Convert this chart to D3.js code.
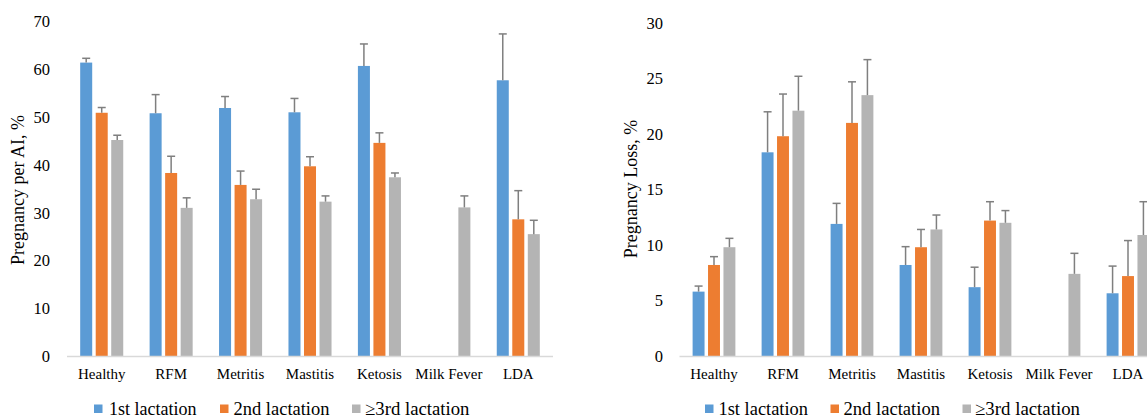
<!DOCTYPE html>
<html>
<head>
<meta charset="utf-8">
<script src="https://cdn.jsdelivr.net/npm/d3@7/dist/d3.min.js"></script>
<style>
  html, body { margin: 0; padding: 0; background: #fff; }
  svg { display: block; }
  text { font-family: "Liberation Serif", "Times New Roman", serif; fill: #000; }
</style>
</head>
<body>
<svg id="chart" width="1147" height="417"></svg>
<script>
// ---------------- DATA ----------------
const categories = ["Healthy", "RFM", "Metritis", "Mastitis", "Ketosis", "Milk Fever", "LDA"];
const seriesNames = ["1st lactation", "2nd lactation", "\u22653rd lactation"];
const seriesColors = ["#5B9BD5", "#ED7D31", "#B4B4B4"];

// Left panel: Pregnancy per AI, %
const ppaiFirst  = [61.4, 50.8, 51.9, 51.0, 60.7, null, 57.7];
const ppaiSecond = [50.9, 38.3, 35.8, 39.7, 44.6, null, 28.6];
const ppaiThird  = [45.2, 31.0, 32.8, 32.3, 37.4, 31.1, 25.5];
const ppaiFirstErr  = [0.9, 3.9, 2.4, 2.9, 4.6, null, 9.7];
const ppaiSecondErr = [1.1, 3.5, 2.9, 2.0, 2.1, null, 6.0];
const ppaiThirdErr  = [1.0, 2.1, 2.1, 1.2, 0.9, 2.4, 2.9];
const ppaiTicks = [0, 10, 20, 30, 40, 50, 60, 70];

// Right panel: Pregnancy Loss, %
const lossFirst  = [5.8, 18.35, 11.9, 8.2, 6.2, null, 5.65];
const lossSecond = [8.2, 19.8, 21.0, 9.8, 12.2, null, 7.2];
const lossThird  = [9.8, 22.1, 23.5, 11.4, 12.0, 7.4, 10.9];
const lossFirstErr  = [0.5, 3.65, 1.85, 1.65, 1.8, null, 2.45];
const lossSecondErr = [0.75, 3.8, 3.7, 1.6, 1.7, null, 3.2];
const lossThirdErr  = [0.8, 3.1, 3.2, 1.3, 1.1, 1.85, 3.0];
const lossTicks = [0, 5, 10, 15, 20, 25, 30];

// ---------------- DRAW ----------------
const svg = d3.select("#chart");

function panel(opts) {
  const g = svg.append("g");
  const x = d3.scaleBand().domain(categories).range([opts.x0, opts.x1]).padding(0);
  const bw = x.bandwidth();
  const xs = d3.scaleBand().domain(d3.range(3))
    .range([bw * 0.19, bw * 0.81]).paddingInner(0.226).paddingOuter(0);
  const y = d3.scaleLinear().domain([0, opts.max]).range([opts.yBase, opts.yTop]);

  const rows = [];
  opts.values.forEach((arr, s) => {
    arr.forEach((v, i) => {
      if (v !== null) rows.push({cat: categories[i], s, v, e: opts.errs[s][i]});
    });
  });

  // bars
  g.selectAll("rect.bar").data(rows).enter().append("rect")
    .attr("class", "bar")
    .attr("x", d => x(d.cat) + xs(d.s))
    .attr("width", xs.bandwidth())
    .attr("y", d => y(d.v))
    .attr("height", d => y(0) - y(d.v))
    .attr("fill", d => seriesColors[d.s]);

  // error bars (upper only)
  const eg = g.selectAll("g.err").data(rows).enter().append("g").attr("class", "err");
  eg.append("line")
    .attr("x1", d => x(d.cat) + xs(d.s) + xs.bandwidth() / 2)
    .attr("x2", d => x(d.cat) + xs(d.s) + xs.bandwidth() / 2)
    .attr("y1", d => y(d.v))
    .attr("y2", d => y(d.v + d.e))
    .attr("stroke", "#7F7F7F").attr("stroke-width", 1.5);
  eg.append("line")
    .attr("x1", d => x(d.cat) + xs(d.s) + xs.bandwidth() / 2 - 4)
    .attr("x2", d => x(d.cat) + xs(d.s) + xs.bandwidth() / 2 + 4)
    .attr("y1", d => y(d.v + d.e))
    .attr("y2", d => y(d.v + d.e))
    .attr("stroke", "#7F7F7F").attr("stroke-width", 1.5);

  // x axis line
  g.append("line")
    .attr("x1", opts.x0).attr("x2", opts.x1)
    .attr("y1", y(0) + 0.5).attr("y2", y(0) + 0.5)
    .attr("stroke", "#D9D9D9").attr("stroke-width", 1.5);

  // x category labels
  const xAxis = d3.axisBottom(x).tickSize(0).tickPadding(0);
  const xa = g.append("g").attr("transform", `translate(0,${opts.catY})`).call(xAxis);
  xa.select(".domain").remove();
  xa.selectAll("text").attr("font-size", 15).attr("dy", 0)
    .style("font-family", '"Liberation Serif", "Times New Roman", serif').attr("fill", "#000");

  // y axis labels
  const yAxis = d3.axisLeft(y).tickValues(opts.ticks).tickSize(0).tickPadding(0);
  const ya = g.append("g").attr("transform", `translate(${opts.yLabelX},0)`).call(yAxis);
  ya.select(".domain").remove();
  ya.selectAll("text").attr("font-size", 16.5).attr("dy", "0.33em")
    .style("font-family", '"Liberation Serif", "Times New Roman", serif').attr("fill", "#000");

  // y title
  g.append("text")
    .attr("transform", `translate(${opts.titleX},${opts.titleY}) rotate(-90)`)
    .attr("text-anchor", "middle")
    .attr("font-size", 18)
    .text(opts.title);

  // legend
  const lg = g.append("g");
  seriesNames.forEach((name, s) => {
    lg.append("rect")
      .attr("x", opts.legendX[s]).attr("y", 404.5)
      .attr("width", 8.5).attr("height", 8.5)
      .attr("fill", seriesColors[s]);
    lg.append("text")
      .attr("x", opts.legendTextX[s]).attr("y", 414.5)
      .attr("font-size", 18.5)
      .attr("textLength", opts.legendW[s])
      .attr("lengthAdjust", "spacingAndGlyphs")
      .text(name);
  });
}

panel({
  x0: 67, x1: 553, yBase: 356, yTop: 21.5, max: 70, ticks: ppaiTicks,
  values: [ppaiFirst, ppaiSecond, ppaiThird],
  errs: [ppaiFirstErr, ppaiSecondErr, ppaiThirdErr],
  catY: 379, yLabelX: 50, titleX: 24, titleY: 190,
  title: "Pregnancy per AI, %",
  legendX: [94, 220, 352], legendTextX: [109, 233.5, 365], legendW: [87.5, 96, 104.5]
});

panel({
  x0: 679.5, x1: 1162.5, yBase: 356, yTop: 23, max: 30, ticks: lossTicks,
  values: [lossFirst, lossSecond, lossThird],
  errs: [lossFirstErr, lossSecondErr, lossThirdErr],
  catY: 378.5, yLabelX: 663, titleX: 637, titleY: 189,
  title: "Pregnancy Loss, %",
  legendX: [705, 830.5, 962.5], legendTextX: [718.5, 843.5, 975], legendW: [89.5, 96.5, 105]
});
</script>
</body>
</html>
